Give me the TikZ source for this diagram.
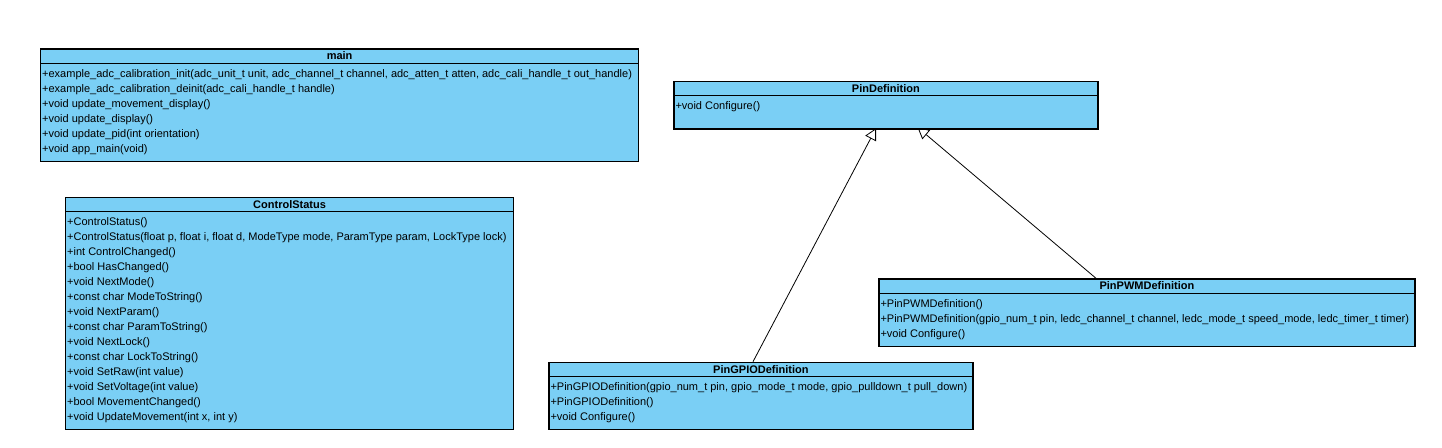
\documentclass[tikz,border=0pt]{standalone}
\usepackage{fontspec}
\setmainfont{Liberation Sans}
\usetikzlibrary{arrows.meta}
\definecolor{vpblue}{RGB}{122,207,245}
\pgfdeclarelayer{background}
\pgfsetlayers{background,main}
\begin{document}
\begin{tikzpicture}[x=1pt,y=-1pt,
  classbox/.style={draw=black, fill=vpblue, line width=1.2pt, rectangle, inner sep=0pt, anchor=north west},
  hdr/.style={font=\fontsize{11}{13}\selectfont\bfseries, anchor=base, inner sep=0pt},
  op/.style={font=\fontsize{11}{13}\selectfont, anchor=base west, inner sep=0pt},
  divider/.style={draw=black, line width=0.9pt},
  inherit/.style={draw=black, line width=0.8pt, -{Triangle[open,length=11.5pt,width=12pt]}}
]
\useasboundingbox (0,0) rectangle (1442,447);

% ---------- main ----------
\node[classbox, minimum width=598pt, minimum height=112.7pt] (main) at (40,48.3) {};
\draw[divider] ([yshift=-15pt]main.north west) -- ([yshift=-15pt]main.north east);
\node[hdr] (mainH) at ([yshift=-11.5pt]main.north) {main};
\node[op] (main1) at ([xshift=2pt,yshift=-29pt]main.north west) {+example\_adc\_calibration\_init(adc\_unit\_t unit, adc\_channel\_t channel, adc\_atten\_t atten, adc\_cali\_handle\_t out\_handle)};
\node[op] (main2) at ([yshift=-15pt]main1.base west) {+example\_adc\_calibration\_deinit(adc\_cali\_handle\_t handle)};
\node[op] (main3) at ([yshift=-15pt]main2.base west) {+void update\_movement\_display()};
\node[op] (main4) at ([yshift=-15pt]main3.base west) {+void update\_display()};
\node[op] (main5) at ([yshift=-15pt]main4.base west) {+void update\_pid(int orientation)};
\node[op] (main6) at ([yshift=-15pt]main5.base west) {+void app\_main(void)};

% ---------- ControlStatus ----------
\node[classbox, minimum width=448pt, minimum height=232.3pt] (cs) at (65,196.7) {};
\draw[divider] ([yshift=-15pt]cs.north west) -- ([yshift=-15pt]cs.north east);
\node[hdr] (csH) at ([yshift=-11.5pt]cs.north) {ControlStatus};
\node[op] (cs1) at ([xshift=2pt,yshift=-29pt]cs.north west) {+ControlStatus()};
\node[op] (cs2) at ([yshift=-15pt]cs1.base west) {+ControlStatus(float p, float i, float d, ModeType mode, ParamType param, LockType lock)};
\node[op] (cs3) at ([yshift=-15pt]cs2.base west) {+int ControlChanged()};
\node[op] (cs4) at ([yshift=-15pt]cs3.base west) {+bool HasChanged()};
\node[op] (cs5) at ([yshift=-15pt]cs4.base west) {+void NextMode()};
\node[op] (cs6) at ([yshift=-15pt]cs5.base west) {+const char ModeToString()};
\node[op] (cs7) at ([yshift=-15pt]cs6.base west) {+void NextParam()};
\node[op] (cs8) at ([yshift=-15pt]cs7.base west) {+const char ParamToString()};
\node[op] (cs9) at ([yshift=-15pt]cs8.base west) {+void NextLock()};
\node[op] (cs10) at ([yshift=-15pt]cs9.base west) {+const char LockToString()};
\node[op] (cs11) at ([yshift=-15pt]cs10.base west) {+void SetRaw(int value)};
\node[op] (cs12) at ([yshift=-15pt]cs11.base west) {+void SetVoltage(int value)};
\node[op] (cs13) at ([yshift=-15pt]cs12.base west) {+bool MovementChanged()};
\node[op] (cs14) at ([yshift=-15pt]cs13.base west) {+void UpdateMovement(int x, int y)};

% ---------- PinDefinition ----------
\node[classbox, minimum width=424pt, minimum height=47.6pt] (pindef) at (673.3,80.7) {};
\draw[divider] ([yshift=-15pt]pindef.north west) -- ([yshift=-15pt]pindef.north east);
\node[hdr] (pindefH) at ([yshift=-11.5pt]pindef.north) {PinDefinition};
\node[op] (pindef1) at ([xshift=2pt,yshift=-28.5pt]pindef.north west) {+void Configure()};

% ---------- PinPWMDefinition ----------
\node[classbox, minimum width=536pt, minimum height=67.7pt] (pwm) at (878.3,278.3) {};
\draw[divider] ([yshift=-15pt]pwm.north west) -- ([yshift=-15pt]pwm.north east);
\node[hdr] (pwmH) at ([yshift=-11.5pt]pwm.north) {PinPWMDefinition};
\node[op] (pwm1) at ([xshift=2pt,yshift=-29pt]pwm.north west) {+PinPWMDefinition()};
\node[op] (pwm2) at ([yshift=-15pt]pwm1.base west) {+PinPWMDefinition(gpio\_num\_t pin, ledc\_channel\_t channel, ledc\_mode\_t speed\_mode, ledc\_timer\_t timer)};
\node[op] (pwm3) at ([yshift=-15pt]pwm2.base west) {+void Configure()};

% ---------- PinGPIODefinition ----------
\node[classbox, minimum width=424pt, minimum height=67.3pt] (gpio) at (548.3,361.7) {};
\draw[divider] ([yshift=-15pt]gpio.north west) -- ([yshift=-15pt]gpio.north east);
\node[hdr] (gpioH) at ([yshift=-11.5pt]gpio.north) {PinGPIODefinition};
\node[op] (gpio1) at ([xshift=2pt,yshift=-29pt]gpio.north west) {+PinGPIODefinition(gpio\_num\_t pin, gpio\_mode\_t mode, gpio\_pulldown\_t pull\_down)};
\node[op] (gpio2) at ([yshift=-15pt]gpio1.base west) {+PinGPIODefinition()};
\node[op] (gpio3) at ([yshift=-15pt]gpio2.base west) {+void Configure()};

% ---------- generalisations ----------
\coordinate (gpioTop) at (753,361.7);
\coordinate (tipG) at (876,128.3);
\coordinate (pwmTop) at (1096,278.3);
\coordinate (tipP) at (917.5,127.3);
\begin{pgfonlayer}{background}
\draw[inherit] (gpioTop) -- (tipG);
\draw[inherit] (pwmTop) -- (tipP);
\end{pgfonlayer}
\end{tikzpicture}
\end{document}
